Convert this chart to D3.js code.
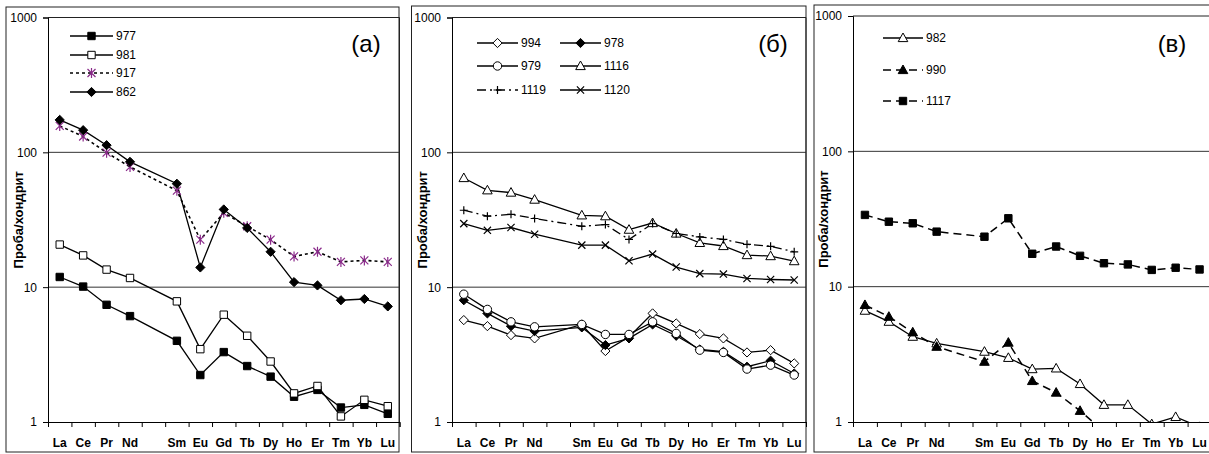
<!DOCTYPE html>
<html>
<head>
<meta charset="utf-8">
<script src="https://cdn.jsdelivr.net/npm/d3@7"></script>
<style>
  html, body { margin: 0; padding: 0; background: #fff; }
  svg { display: block; font-family: Arial, "Liberation Sans", sans-serif; }
</style>
</head>
<body>
<svg id="chart" width="1209" height="454"></svg>
<script>
// x slots: Pm is kept as an empty slot between Nd and Sm
const slots    = ["La","Ce","Pr","Nd","Pm","Sm","Eu","Gd","Tb","Dy","Ho","Er","Tm","Yb","Lu"];
const elements = ["La","Ce","Pr","Nd","Sm","Eu","Gd","Tb","Dy","Ho","Er","Tm","Yb","Lu"];
const yTicks   = [1, 10, 100, 1000];
const yTitle   = "Проба/хондрит";

// panel (а)
const s977 = [11.9, 10.1, 7.4, 6.1, 4.0, 2.23, 3.3, 2.6, 2.17, 1.54, 1.73, 1.28, 1.34, 1.15];
const s981 = [20.7, 17.2, 13.5, 11.7, 7.85, 3.47, 6.25, 4.36, 2.81, 1.63, 1.85, 1.10, 1.46, 1.31];
const s917 = [157, 131, 99.5, 78, 52, 22.5, 35.6, 28.3, 22.5, 16.9, 18.3, 15.4, 15.8, 15.4];
const s862 = [174, 146, 113, 85, 58.5, 14.0, 37.7, 27.5, 18.3, 10.9, 10.3, 8.0, 8.17, 7.2];

// panel (б)
const s994  = [5.7, 5.14, 4.41, 4.17, 5.29, 3.36, 4.28, 6.39, 5.38, 4.49, 4.17, 3.28, 3.41, 2.72];
const s978  = [8.0, 6.39, 5.14, 4.72, 5.03, 3.72, 4.17, 5.29, 4.36, 3.45, 3.32, 2.57, 2.85, 2.29];
const s979  = [8.87, 6.84, 5.53, 5.08, 5.29, 4.46, 4.46, 5.53, 4.54, 3.41, 3.28, 2.47, 2.64, 2.23];
const s1116 = [64.5, 52.3, 50.3, 44.6, 34.1, 33.6, 26.7, 29.9, 25.0, 21.3, 20.2, 17.3, 17.0, 15.6];
const s1119 = [37.2, 33.6, 34.7, 32.3, 28.3, 29.1, 22.6, 29.6, 25.0, 23.6, 22.6, 20.8, 20.1, 18.3];
const s1120 = [29.6, 26.4, 27.7, 24.7, 20.5, 20.5, 15.7, 17.6, 14.1, 12.6, 12.5, 11.6, 11.4, 11.3];

// panel (в)
const s982  = [6.65, 5.51, 4.27, 3.81, 3.31, 2.98, 2.46, 2.49, 1.91, 1.34, 1.34, 0.965, 1.09, 0.92];
const s990  = [7.33, 6.0, 4.6, 3.6, 2.79, 3.86, 2.01, 1.65, 1.21, 0.85, null, null, null, null];
const s1117 = [33.9, 30.2, 29.4, 25.5, 23.4, 32.0, 17.5, 19.8, 16.9, 14.9, 14.6, 13.3, 13.8, 13.4];

// line styles
const styles = {
  solid:   { dash: null,      width: 1.3 },
  dotted:  { dash: "3,3",     width: 1.6 },
  dashdot: { dash: "9,4,2,4", width: 1.3 },
  dashed:  { dash: "8,5",     width: 1.5 }
};

const panels = [
  {
    label: "(a)", frame: [6, 7, 393, 445], plot: [48, 399.5, 17.5, 422], labelPos: [366, 52],
    series: [
      { name: "977", values: s977, marker: "square",   fill: "#000", style: "solid" },
      { name: "981", values: s981, marker: "square",   fill: "#fff", style: "solid" },
      { name: "917", values: s917, marker: "asterisk", fill: "none", style: "dotted", color: "#8a2a8a" },
      { name: "862", values: s862, marker: "diamond",  fill: "#000", style: "solid" }
    ],
    legend: { x: 70, len: 43, rows: [36, 55, 73, 92], cols: [0, 0, 0, 0] }
  },
  {
    label: "(б)", frame: [411.5, 6, 394.5, 446], plot: [452, 806, 17.5, 422], labelPos: [773, 52],
    series: [
      { name: "994",  values: s994,  marker: "diamond",  fill: "#fff", style: "solid" },
      { name: "978",  values: s978,  marker: "diamond",  fill: "#000", style: "solid" },
      { name: "979",  values: s979,  marker: "circle",   fill: "#fff", style: "solid" },
      { name: "1116", values: s1116, marker: "triangle", fill: "#fff", style: "solid" },
      { name: "1119", values: s1119, marker: "plus",     fill: "none", style: "dashdot" },
      { name: "1120", values: s1120, marker: "cross",    fill: "none", style: "solid" }
    ],
    legend: { x: 477, len: 41, colStep: 83, rows: [43, 43, 66, 66, 90, 90], cols: [0, 1, 0, 1, 0, 1] }
  },
  {
    label: "(в)", frame: [814, 5, 410, 447], plot: [853, 1211.5, 16, 422], labelPos: [1172, 52],
    series: [
      { name: "982",  values: s982,  marker: "triangle", fill: "#fff", style: "solid" },
      { name: "990",  values: s990,  marker: "triangle", fill: "#000", style: "dashed" },
      { name: "1117", values: s1117, marker: "square",   fill: "#000", style: "dashed" }
    ],
    legend: { x: 883, len: 40, rows: [38, 70, 101], cols: [0, 0, 0] }
  }
];

// small marker shapes, drawn around 0,0
function markerPath(type) {
  switch (type) {
    case "square":   return "M-3.7,-3.7h7.4v7.4h-7.4Z";
    case "diamond":  return "M0,-4.6L4.6,0L0,4.6L-4.6,0Z";
    case "triangle": return "M0,-5L4.8,3.6L-4.8,3.6Z";
    case "circle":   return "M4.2,0A4.2,4.2 0 1,1 -4.2,0A4.2,4.2 0 1,1 4.2,0Z";
    case "plus":     return "M-4,0H4M0,-4V4";
    case "cross":    return "M-3.6,-3.6L3.6,3.6M-3.6,3.6L3.6,-3.6";
    case "asterisk": return "M-4,-4L4,4M-4,4L4,-4M0,-5V5";
  }
}

function drawMarker(g, s, x, y) {
  const open = s.marker === "plus" || s.marker === "cross" || s.marker === "asterisk";
  g.append("path")
    .attr("d", markerPath(s.marker))
    .attr("transform", `translate(${x},${y})`)
    .attr("fill", open ? "none" : s.fill)
    .attr("stroke", s.color || "#000")
    .attr("stroke-width", open ? 1.2 : 1);
}

const svg = d3.select("#chart");

panels.forEach((p, pi) => {
  const [fx, fy, fw, fh] = p.frame;
  const [x0, x1, yTop, yBot] = p.plot;

  // outer frame of the panel
  svg.append("rect")
    .attr("x", fx).attr("y", fy).attr("width", fw).attr("height", fh)
    .attr("fill", "none").attr("stroke", "#222").attr("stroke-width", 1);

  const x = d3.scaleBand().domain(slots).range([x0, x1]).paddingInner(0).paddingOuter(0);
  const xEdge = d3.scaleLinear().domain([0, slots.length]).range([x0, x1]);
  const y = d3.scaleLog().domain([1, 1000]).range([yBot, yTop]);
  const cx = el => x(el) + x.bandwidth() / 2;

  const g = svg.append("g");

  // gridlines at 10 and 100, top and right border of the plot
  g.selectAll(".grid").data([10, 100]).join("line")
    .attr("x1", x0).attr("x2", x1)
    .attr("y1", d => y(d)).attr("y2", d => y(d))
    .attr("stroke", "#333").attr("stroke-width", 1);
  g.append("line").attr("x1", x0).attr("x2", x1).attr("y1", y(1000)).attr("y2", y(1000))
    .attr("stroke", "#222");
  g.append("line").attr("x1", x1).attr("x2", x1).attr("y1", y(1000)).attr("y2", y(1))
    .attr("stroke", "#222");

  // y axis
  const yAxis = g.append("g")
    .attr("transform", `translate(${x0},0)`)
    .call(d3.axisLeft(y).tickValues(yTicks).tickFormat(d3.format("d")).tickSize(5).tickPadding(6));
  yAxis.select(".domain").attr("stroke", "#000");
  yAxis.selectAll("text").attr("font-size", 12).attr("fill", "#000");

  // x axis: tick marks at slot edges, labels centred
  const xTicks = g.append("g")
    .attr("transform", `translate(0,${yBot})`)
    .call(d3.axisBottom(xEdge).tickValues(d3.range(slots.length + 1)).tickSize(5).tickFormat(""));
  xTicks.select(".domain").attr("stroke", "#000");
  const xLabels = g.append("g")
    .attr("transform", `translate(0,${yBot})`)
    .call(d3.axisBottom(x).tickSize(0).tickPadding(16).tickFormat(d => d === "Pm" ? "" : d));
  xLabels.select(".domain").remove();
  xLabels.selectAll("text").attr("font-size", 12).attr("font-weight", "bold").attr("fill", "#000");

  // axis title
  g.append("text")
    .attr("transform", `translate(${x0 - 30},${(y(10) + y(100)) / 2 + 0}) rotate(-90)`)
    .attr("text-anchor", "middle")
    .attr("dy", "0.35em")
    .attr("font-size", 13).attr("font-weight", "bold")
    .text(yTitle);

  // panel label
  g.append("text")
    .attr("x", p.labelPos[0]).attr("y", p.labelPos[1])
    .attr("text-anchor", "middle")
    .attr("font-size", 24)
    .text(p.label);

  // clip data to plot area
  const clipId = "clip" + pi;
  svg.append("clipPath").attr("id", clipId)
    .append("rect").attr("x", x0).attr("y", yTop).attr("width", x1 - x0).attr("height", yBot - yTop);

  const dataG = g.append("g").attr("clip-path", `url(#${clipId})`);
  const line = d3.line()
    .defined(d => d.v != null)
    .x(d => cx(d.el))
    .y(d => y(d.v));

  p.series.forEach(s => {
    const pts = elements.map((el, i) => ({ el, v: s.values[i] }));
    const st = styles[s.style];
    dataG.append("path")
      .datum(pts)
      .attr("fill", "none")
      .attr("stroke", "#000")
      .attr("stroke-width", st.width)
      .attr("stroke-dasharray", st.dash)
      .attr("d", line);
  });
  p.series.forEach(s => {
    elements.forEach((el, i) => {
      const v = s.values[i];
      if (v == null) return;
      drawMarker(dataG, s, cx(el), y(v));
    });
  });

  // legend
  const lg = g.append("g");
  p.series.forEach((s, i) => {
    const lx = p.legend.x + (p.legend.cols[i] || 0) * (p.legend.colStep || 0);
    const ly = p.legend.rows[i];
    const st = styles[s.style];
    lg.append("line")
      .attr("x1", lx).attr("x2", lx + p.legend.len)
      .attr("y1", ly).attr("y2", ly)
      .attr("stroke", "#000").attr("stroke-width", st.width)
      .attr("stroke-dasharray", st.dash);
    drawMarker(lg, s, lx + p.legend.len / 2, ly);
    lg.append("text")
      .attr("x", lx + p.legend.len + 3).attr("y", ly)
      .attr("dy", "0.35em")
      .attr("font-size", 12)
      .text(s.name);
  });
});
</script>
</body>
</html>
